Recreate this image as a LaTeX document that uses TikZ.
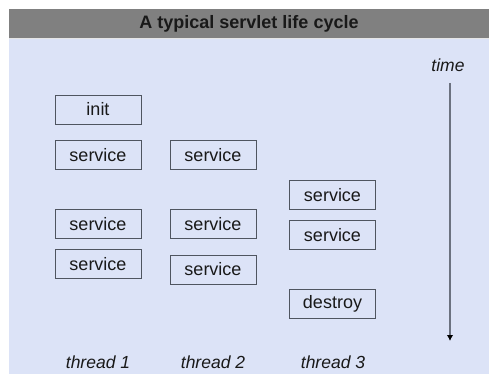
\documentclass[tikz,border=0pt]{standalone}
\usepackage{fontspec}
\setmainfont{Liberation Sans}
\usetikzlibrary{arrows.meta}

\definecolor{barGray}{HTML}{808080}
\definecolor{paneBlue}{HTML}{DCE3F7}
\definecolor{boxLine}{HTML}{4F5560}
\definecolor{arrowGray}{HTML}{6C7280}

\tikzset{
	call/.style={draw=boxLine,line width=0.9pt,minimum width=86pt,minimum height=29pt,
		inner sep=0pt,font=\fontsize{18}{20}\selectfont,text=black!90},
	label/.style={font=\fontsize{17.5}{20}\selectfont\itshape,text=black!90}
}

\begin{document}
\begin{tikzpicture}[x=1pt,y=-1pt]
\useasboundingbox (0,0) rectangle (489,374);
%title bar and pane
\fill[barGray] (9,9) rectangle (489,38);
\fill[paneBlue] (9,38) rectangle (489,374);
\draw[white!80!barGray,line width=0.8pt] (9,38) -- (489,38);
\path (249,23.5) node[font=\fontsize{18}{20}\selectfont\bfseries,text=black!90] (title) {A typical servlet life cycle};
%thread 1
\path (98,109.5) node[call] (init) {init};
\path (98,155) node[call] (s11) {service};
\path (98,224) node[call] (s12) {service};
\path (98,264) node[call] (s13) {service};
\path (98,362) node[label] (th1) {thread 1};
%thread 2
\path (213,155) node[call] (s21) {service};
\path (213,224) node[call] (s22) {service};
\path (213,269.5) node[call] (s23) {service};
\path (213,362) node[label] (th2) {thread 2};
%thread 3
\path (332.5,195) node[call] (s31) {service};
\path (332.5,235) node[call] (s32) {service};
\path (332.5,303.5) node[call] (destroy) {destroy};
\path (333,362) node[label] (th3) {thread 3};
%time axis
\path (448,65) node[label] (time) {time};
\coordinate (t0) at (450,83);
\coordinate (t1) at (450,341);
\draw[arrowGray,line width=1.5pt,-{Latex[length=6pt,width=6.5pt,color=black]}] (t0) -- (t1);
\end{tikzpicture}
\end{document}
